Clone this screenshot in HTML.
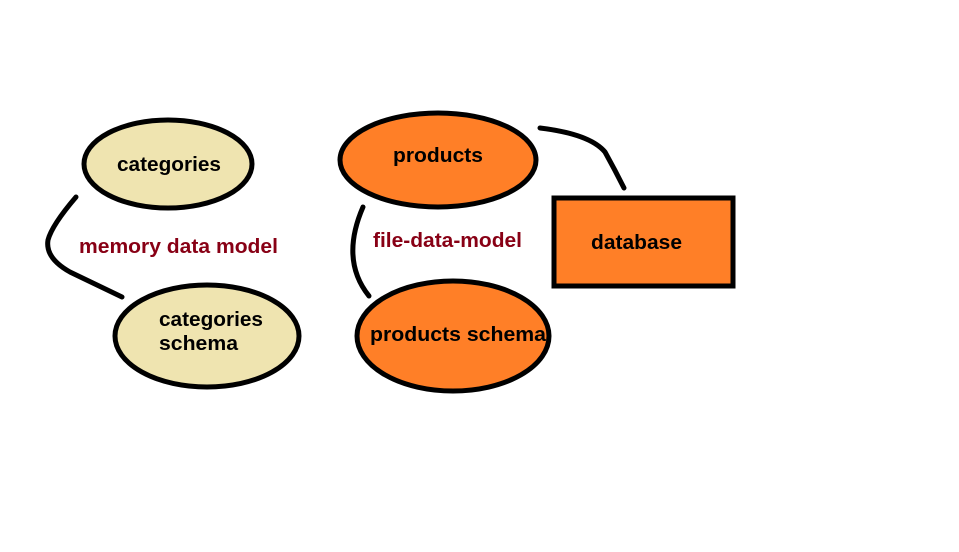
<!DOCTYPE html>
<html><head><style>body{margin:0;background:#fff}</style></head><body>
<svg width="959" height="547" xmlns="http://www.w3.org/2000/svg" font-family="Liberation Sans, Arial, sans-serif" font-weight="bold">
<rect width="959" height="547" fill="#fff"/>
<g stroke="#000" stroke-width="5" fill="none" stroke-linecap="round">
<path d="M76,197 Q52,225 48,240 Q45,258 70,272 L122,297"/>
<path d="M363,207 Q340,260 369,296"/>
<path d="M540,128 Q590,134 605,152 Q615,170 624,188"/>
</g>
<ellipse cx="168" cy="164" rx="84" ry="44" fill="#efe4b0" stroke="#000" stroke-width="5"/>
<ellipse cx="207" cy="336" rx="92" ry="51" fill="#efe4b0" stroke="#000" stroke-width="5"/>
<ellipse cx="438" cy="160" rx="98" ry="47" fill="#ff7f27" stroke="#000" stroke-width="5"/>
<ellipse cx="453" cy="336" rx="96" ry="55" fill="#ff7f27" stroke="#000" stroke-width="5"/>
<rect x="554" y="198" width="179" height="88" fill="#ff7f27" stroke="#000" stroke-width="5"/>
<g font-size="20" fill="#000">
<text x="117" y="171" textLength="104" lengthAdjust="spacingAndGlyphs">categories</text>
<text x="159" y="326" textLength="104" lengthAdjust="spacingAndGlyphs">categories</text>
<text x="159" y="350" textLength="79" lengthAdjust="spacingAndGlyphs">schema</text>
<text x="393" y="162" textLength="90" lengthAdjust="spacingAndGlyphs">products</text>
<text x="370" y="341" textLength="176" lengthAdjust="spacingAndGlyphs">products schema</text>
<text x="591" y="249" textLength="91" lengthAdjust="spacingAndGlyphs">database</text>
</g>
<g font-size="20" fill="#880015">
<text x="79" y="253" textLength="199" lengthAdjust="spacingAndGlyphs">memory data model</text>
<text x="373" y="247" textLength="149" lengthAdjust="spacingAndGlyphs">file-data-model</text>
</g>
</svg>
</body></html>
